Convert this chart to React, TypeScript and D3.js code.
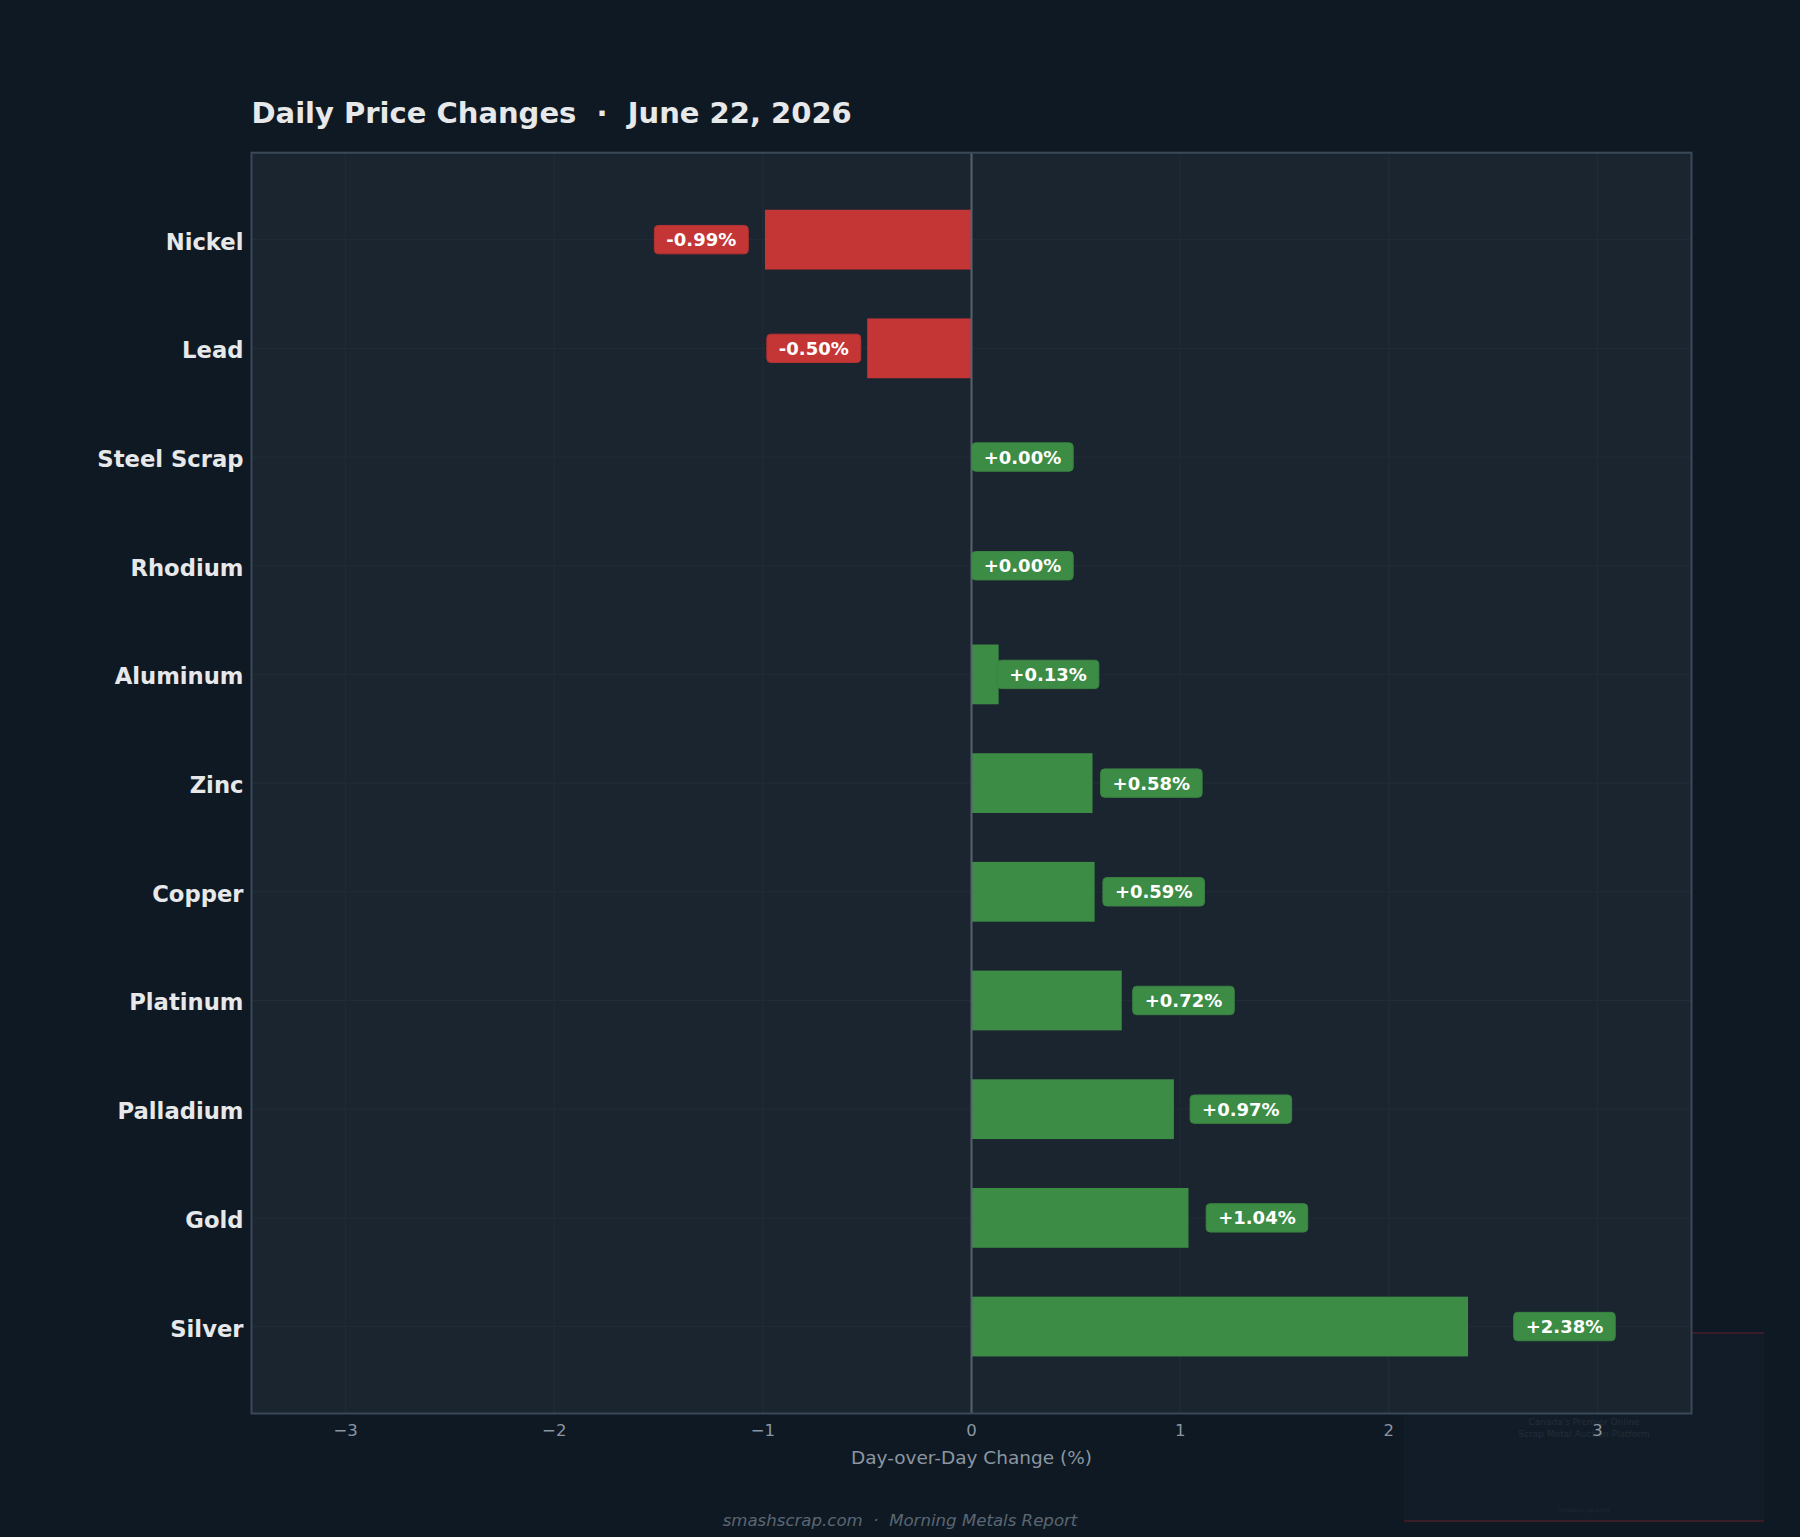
import React, { useEffect, useRef } from "react";
import * as d3 from "d3";

const categories = ["Nickel", "Lead", "Steel Scrap", "Rhodium", "Aluminum", "Zinc", "Copper", "Platinum", "Palladium", "Gold", "Silver"];
const changes = [-0.99, -0.5, 0.0, 0.0, 0.13, 0.58, 0.59, 0.72, 0.97, 1.04, 2.38];
const xTicks = [-3, -2, -1, 0, 1, 2, 3];
const titleText = "Daily Price Changes  \u00b7  June 22, 2026";
const xLabel = "Day-over-Day Change (%)";
const footerText = "smashscrap.com  \u00b7  Morning Metals Report";
const watermarkLines = ["Canada's Premier Online", "Scrap Metal Auction Platform"];

const W = 1800;
const H = 1537;
const M = { left: 251.5, right: 1691.5, top: 152.7, bottom: 1413.5 };
const C = {
  bg: "#0f1923",
  axes: "#1b2530",
  border: "#3a4958",
  grid: "#212d38",
  zero: "#56626e",
  green: "#3c8c45",
  red: "#c43535",
  text: "#e6e8ea",
  tick: "#8b96a1",
  footer: "#5b6672",
};
const FONT = "'DejaVu Sans', sans-serif";

export default function App() {
  const ref = useRef<SVGSVGElement | null>(null);

  useEffect(() => {
    const svg = d3.select(ref.current);
    svg.selectAll("*").remove();

    const maxAbs = d3.max(changes, (d) => Math.abs(d)) as number;
    const lim = maxAbs * 1.45;
    const x = d3.scaleLinear().domain([-lim, lim]).range([M.left, M.right]);
    const y = d3.scalePoint<string>().domain(categories).range([M.top, M.bottom]).padding(0.8);
    const bh = y.step() * 0.55;

    svg.append("rect").attr("width", W).attr("height", H).attr("fill", C.bg);

    // watermark (under axes)
    const wm = svg.append("g");
    wm.append("rect").attr("x", 1404).attr("y", 1333).attr("width", 360).attr("height", 188).attr("fill", "#111c28");
    wm.append("line").attr("x1", 1404).attr("x2", 1764).attr("y1", 1333).attr("y2", 1333).attr("stroke", "#3a1e27").attr("stroke-width", 2);
    wm.append("line").attr("x1", 1404).attr("x2", 1764).attr("y1", 1521).attr("y2", 1521).attr("stroke", "#3a1e27").attr("stroke-width", 2);
    watermarkLines.forEach((t, i) => {
      wm.append("text").attr("x", 1584).attr("y", 1425 + i * 12).attr("text-anchor", "middle")
        .attr("font-family", FONT).attr("font-size", 9).attr("fill", "#222d38").text(t);
    });
    wm.append("text").attr("x", 1584).attr("y", 1512).attr("text-anchor", "middle")
      .attr("font-family", FONT).attr("font-size", 6).attr("fill", "#1e2934").text("smashscrap.com");

    // axes background
    svg.append("rect").attr("x", M.left).attr("y", M.top).attr("width", M.right - M.left).attr("height", M.bottom - M.top).attr("fill", C.axes);

    // grid
    svg.append("g").selectAll("line").data(xTicks).join("line")
      .attr("x1", (d) => x(d)).attr("x2", (d) => x(d)).attr("y1", M.top).attr("y2", M.bottom)
      .attr("stroke", C.grid).attr("stroke-width", 1);
    svg.append("g").selectAll("line").data(categories).join("line")
      .attr("x1", M.left).attr("x2", M.right).attr("y1", (d) => y(d) as number).attr("y2", (d) => y(d) as number)
      .attr("stroke", C.grid).attr("stroke-width", 1);

    // bars
    svg.append("g").selectAll("rect").data(categories).join("rect")
      .attr("x", (d, i) => Math.min(x(0), x(changes[i])))
      .attr("width", (d, i) => Math.abs(x(changes[i]) - x(0)))
      .attr("y", (d) => (y(d) as number) - bh / 2)
      .attr("height", bh)
      .attr("fill", (d, i) => (changes[i] < 0 ? C.red : C.green));

    // zero line
    svg.append("line").attr("x1", x(0)).attr("x2", x(0)).attr("y1", M.top).attr("y2", M.bottom)
      .attr("stroke", C.zero).attr("stroke-width", 2);

    // value labels
    const lg = svg.append("g");
    categories.forEach((cat, i) => {
      const v = changes[i];
      const cy = y(cat) as number;
      const pos = v >= 0;
      const xt = v === 0 ? 0.02 : v * 1.1;
      const edge = pos ? x(xt) - 4 : x(xt) + 4;
      const label = (pos ? "+" : "") + v.toFixed(2) + "%";
      const g = lg.append("g");
      const rect = g.append("rect");
      const t = g.append("text")
        .attr("font-family", FONT).attr("font-weight", "bold").attr("font-size", 18)
        .attr("fill", "#ffffff").attr("y", cy + 6.5).text(label);
      const tw = (t.node() as SVGTextElement).getComputedTextLength();
      const bw = tw + 24;
      const bx = pos ? edge : edge - bw;
      t.attr("x", bx + 12);
      rect.attr("x", bx).attr("y", cy - 14.2).attr("width", bw).attr("height", 28.4)
        .attr("rx", 4).attr("fill", pos ? C.green : C.red)
        .attr("stroke", pos ? "#3a8342" : "#b53232").attr("stroke-width", 1);
    });

    // border
    svg.append("rect").attr("x", M.left).attr("y", M.top).attr("width", M.right - M.left).attr("height", M.bottom - M.top)
      .attr("fill", "none").attr("stroke", C.border).attr("stroke-width", 2);

    // category labels
    svg.append("g").selectAll("text").data(categories).join("text")
      .attr("x", M.left - 8).attr("y", (d) => (y(d) as number) + 10)
      .attr("text-anchor", "end").attr("font-family", FONT).attr("font-weight", "bold").attr("font-size", 22.7)
      .attr("fill", C.text).text((d) => d);

    // x tick labels
    svg.append("g").selectAll("text").data(xTicks).join("text")
      .attr("x", (d) => x(d)).attr("y", M.bottom + 22.5)
      .attr("text-anchor", "middle").attr("font-family", FONT).attr("font-size", 16.5)
      .attr("fill", C.tick).text((d) => (d < 0 ? "\u2212" + Math.abs(d) : String(d)));

    // x label
    svg.append("text").attr("x", (M.left + M.right) / 2).attr("y", 1463.5).attr("text-anchor", "middle")
      .attr("font-family", FONT).attr("font-size", 18.5).attr("fill", C.tick).text(xLabel);

    // title
    svg.append("text").attr("x", M.left).attr("y", 123).attr("font-family", FONT).attr("font-weight", "bold")
      .attr("font-size", 29).attr("fill", C.text).style("white-space", "pre").text(titleText);

    // footer
    svg.append("text").attr("x", W / 2).attr("y", 1526).attr("text-anchor", "middle")
      .attr("font-family", FONT).attr("font-style", "italic").attr("font-size", 16.6)
      .attr("fill", C.footer).style("white-space", "pre").text(footerText);
  }, []);

  return (
    <svg ref={ref} width={W} height={H} style={{ display: "block", position: "absolute", left: 0, top: 0 }} />
  );
}
